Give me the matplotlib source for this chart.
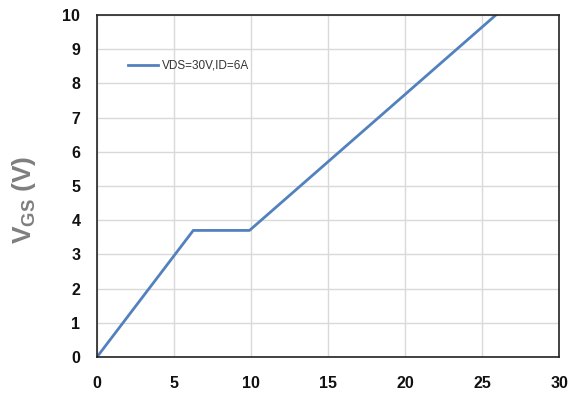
import matplotlib.pyplot as plt

# gate charge curve
qg = [0, 6.25, 9.9, 25.9]
vgs = [0, 3.7, 3.7, 10]
series_label = "VDS=30V,ID=6A"
x_ticks = [0, 5, 10, 15, 20, 25, 30]
y_ticks = [0, 1, 2, 3, 4, 5, 6, 7, 8, 9, 10]

plt.rcParams['font.family'] = ['Liberation Sans', 'DejaVu Sans']

fig = plt.figure(figsize=(5.74, 3.94), dpi=100)
ax = fig.add_axes([0.169, 0.094, 0.805, 0.868])

ax.plot(qg, vgs, color='#5281BE', linewidth=2.0, label=series_label)

ax.set_xlim(0, 30)
ax.set_ylim(0, 10)
ax.set_xticks(x_ticks)
ax.set_yticks(y_ticks)
ax.grid(True, color='#D9D9D9', linewidth=1.0)
ax.set_axisbelow(True)
for s in ax.spines.values():
    s.set_color('#222222')
    s.set_linewidth(1.2)
ax.tick_params(length=0, labelsize=11.5, pad=12)
ax.tick_params(axis='x', pad=14)
for lab in ax.get_xticklabels() + ax.get_yticklabels():
    lab.set_fontweight('bold')
    lab.set_color('#111111')

ax.set_ylabel(r'V$_{\mathregular{GS}}$ (V)', fontsize=19, fontweight='bold',
              color='#7F7F7F')
ax.yaxis.set_label_coords(-0.128, 0.46)

ax.legend(loc='upper left', bbox_to_anchor=(0.045, 0.9), frameon=False,
          fontsize=8.5, handlelength=2.5, handletextpad=0.3,
          labelcolor='#333333')

fig.savefig('out.png', dpi=100)
